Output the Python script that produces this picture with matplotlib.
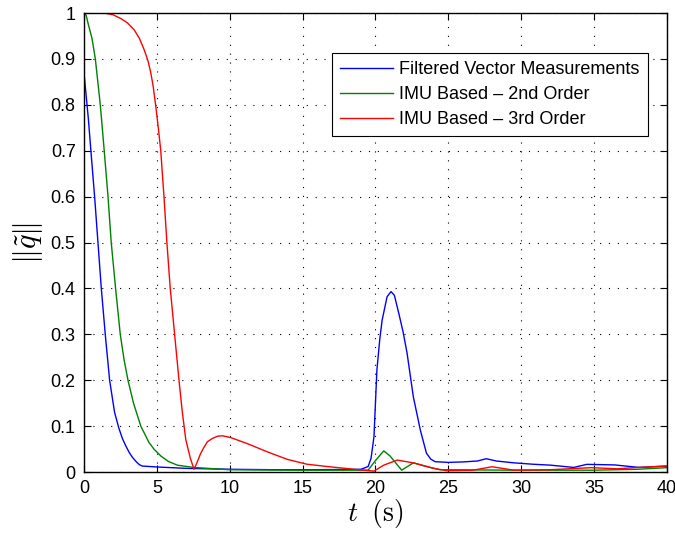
import numpy as np
import matplotlib
matplotlib.use("Agg")
import matplotlib.pyplot as plt

# curve samples
t_fvm = [0, 0.3, 0.5, 0.73, 0.96, 1.19, 1.46, 1.76, 2.1, 2.4, 2.65, 2.9, 3.1, 3.3, 3.6, 3.8, 4.0, 5, 7, 10,
         13, 16, 19, 19.5, 19.7, 19.9, 20.1, 20.3, 20.46, 20.8, 21.07, 21.3, 21.6, 21.9, 22.17, 22.6, 23.08,
         23.5, 23.8, 24.1, 25, 26, 27, 27.6, 28.3, 29.5, 30.8, 32, 33.6, 34.5, 36.4, 38.1, 40]
q_fvm = [0.87, 0.77, 0.69, 0.6, 0.5, 0.4, 0.3, 0.2, 0.13, 0.095, 0.072, 0.055, 0.043, 0.033, 0.022, 0.016,
         0.013, 0.011, 0.008, 0.006, 0.005, 0.005, 0.006, 0.012, 0.03, 0.077, 0.222, 0.29, 0.331, 0.382,
         0.393, 0.385, 0.346, 0.305, 0.259, 0.164, 0.0915, 0.041, 0.028, 0.0225, 0.021, 0.022, 0.024, 0.029,
         0.024, 0.02, 0.017, 0.015, 0.01, 0.0167, 0.0155, 0.01, 0.013]

t_imu2 = [0, 0.15, 0.3, 0.55, 0.78, 1.12, 1.39, 1.65, 1.87, 2.17, 2.49, 2.75, 3.02, 3.4, 3.9, 4.45, 4.8,
          5.27, 5.8, 6.4, 7.5, 10, 15, 19.5, 20.0, 20.57, 21.0, 21.8, 22.6, 23.5, 24.4, 30, 35, 38, 40]
q_imu2 = [1.0, 0.995, 0.975, 0.945, 0.9, 0.8, 0.7, 0.6, 0.5, 0.4, 0.3, 0.245, 0.2, 0.15, 0.1, 0.065, 0.05,
          0.035, 0.023, 0.015, 0.01, 0.005, 0.004, 0.004, 0.025, 0.046, 0.035, 0.004, 0.02, 0.012, 0.005,
          0.004, 0.004, 0.006, 0.0095]

t_imu3 = [0, 1.4, 2.0, 2.53, 3.0, 3.45, 3.8, 4.13, 4.4, 4.59, 4.75, 4.93, 5.1, 5.27, 5.4, 5.49, 5.69, 5.92,
          6.22, 6.52, 6.75, 6.99, 7.3, 7.55, 7.75, 8.0, 8.2, 8.47, 8.8, 9.16, 9.5, 10.07, 11.2, 12.58, 13.95,
          15.3, 16.7, 18.5, 19.9, 20.57, 21.5, 22.6, 24, 24.9, 26.7, 28, 29.5, 32, 34.8, 36.6, 38, 40]
q_imu3 = [1.0, 1.0, 0.996, 0.988, 0.978, 0.963, 0.945, 0.92, 0.895, 0.869, 0.84, 0.796, 0.75, 0.7, 0.64,
          0.6, 0.5, 0.4, 0.3, 0.2, 0.13, 0.07, 0.03, 0.006, 0.02, 0.04, 0.052, 0.066, 0.073, 0.078, 0.079,
          0.075, 0.062, 0.044, 0.0276, 0.017, 0.012, 0.006, 0.002, 0.015, 0.026, 0.02, 0.008, 0.003, 0.004,
          0.0115, 0.004, 0.005, 0.0095, 0.007, 0.01, 0.013]

labels = ["Filtered Vector Measurements", "IMU Based \u2013 2nd Order", "IMU Based \u2013 3rd Order"]
xticks = np.arange(0, 41, 5)
yticks = np.round(np.arange(0, 1.01, 0.1), 1)

plt.rcParams["font.family"] = ["Liberation Sans", "DejaVu Sans"]
plt.rcParams["mathtext.fontset"] = "cm"

fig = plt.figure(figsize=(6.75, 5.33), dpi=100)
ax = fig.add_axes([0.1244, 0.1144, 0.8636, 0.8612])

ax.plot(t_fvm, q_fvm, color="#0000ff", lw=1.0, label=labels[0])
ax.plot(t_imu2, q_imu2, color="#008000", lw=1.0, label=labels[1])
ax.plot(t_imu3, q_imu3, color="#ff0000", lw=1.0, label=labels[2])

ax.set_xlim(0, 40)
ax.set_ylim(0, 1)
ax.set_xticks(xticks)
ax.set_yticks(yticks)
ax.set_xticklabels([str(v) for v in xticks])
ax.set_yticklabels(["0", "0.1", "0.2", "0.3", "0.4", "0.5", "0.6", "0.7", "0.8", "0.9", "1"])
ax.tick_params(direction="in", top=True, right=True, labelsize=13, length=5, width=0.8, pad=6)
ax.grid(True, color="black", linestyle=(0, (1, 7)), linewidth=0.8)
for s in ax.spines.values():
    s.set_linewidth(1.0)

ax.set_xlabel(r"$t\;\ \mathrm{(s)}$", fontsize=20, labelpad=0)
ax.set_ylabel(r"$\|\tilde{q}\|$", fontsize=22, labelpad=4)

leg = ax.legend(loc="upper right", bbox_to_anchor=(0.967, 0.913), fontsize=13,
                fancybox=False, framealpha=1, edgecolor="black", handlelength=2.9,
                borderaxespad=0, handletextpad=0.35, labelspacing=0.45, borderpad=0.45)
leg.get_frame().set_linewidth(0.8)

fig.savefig("out.png", dpi=100)
